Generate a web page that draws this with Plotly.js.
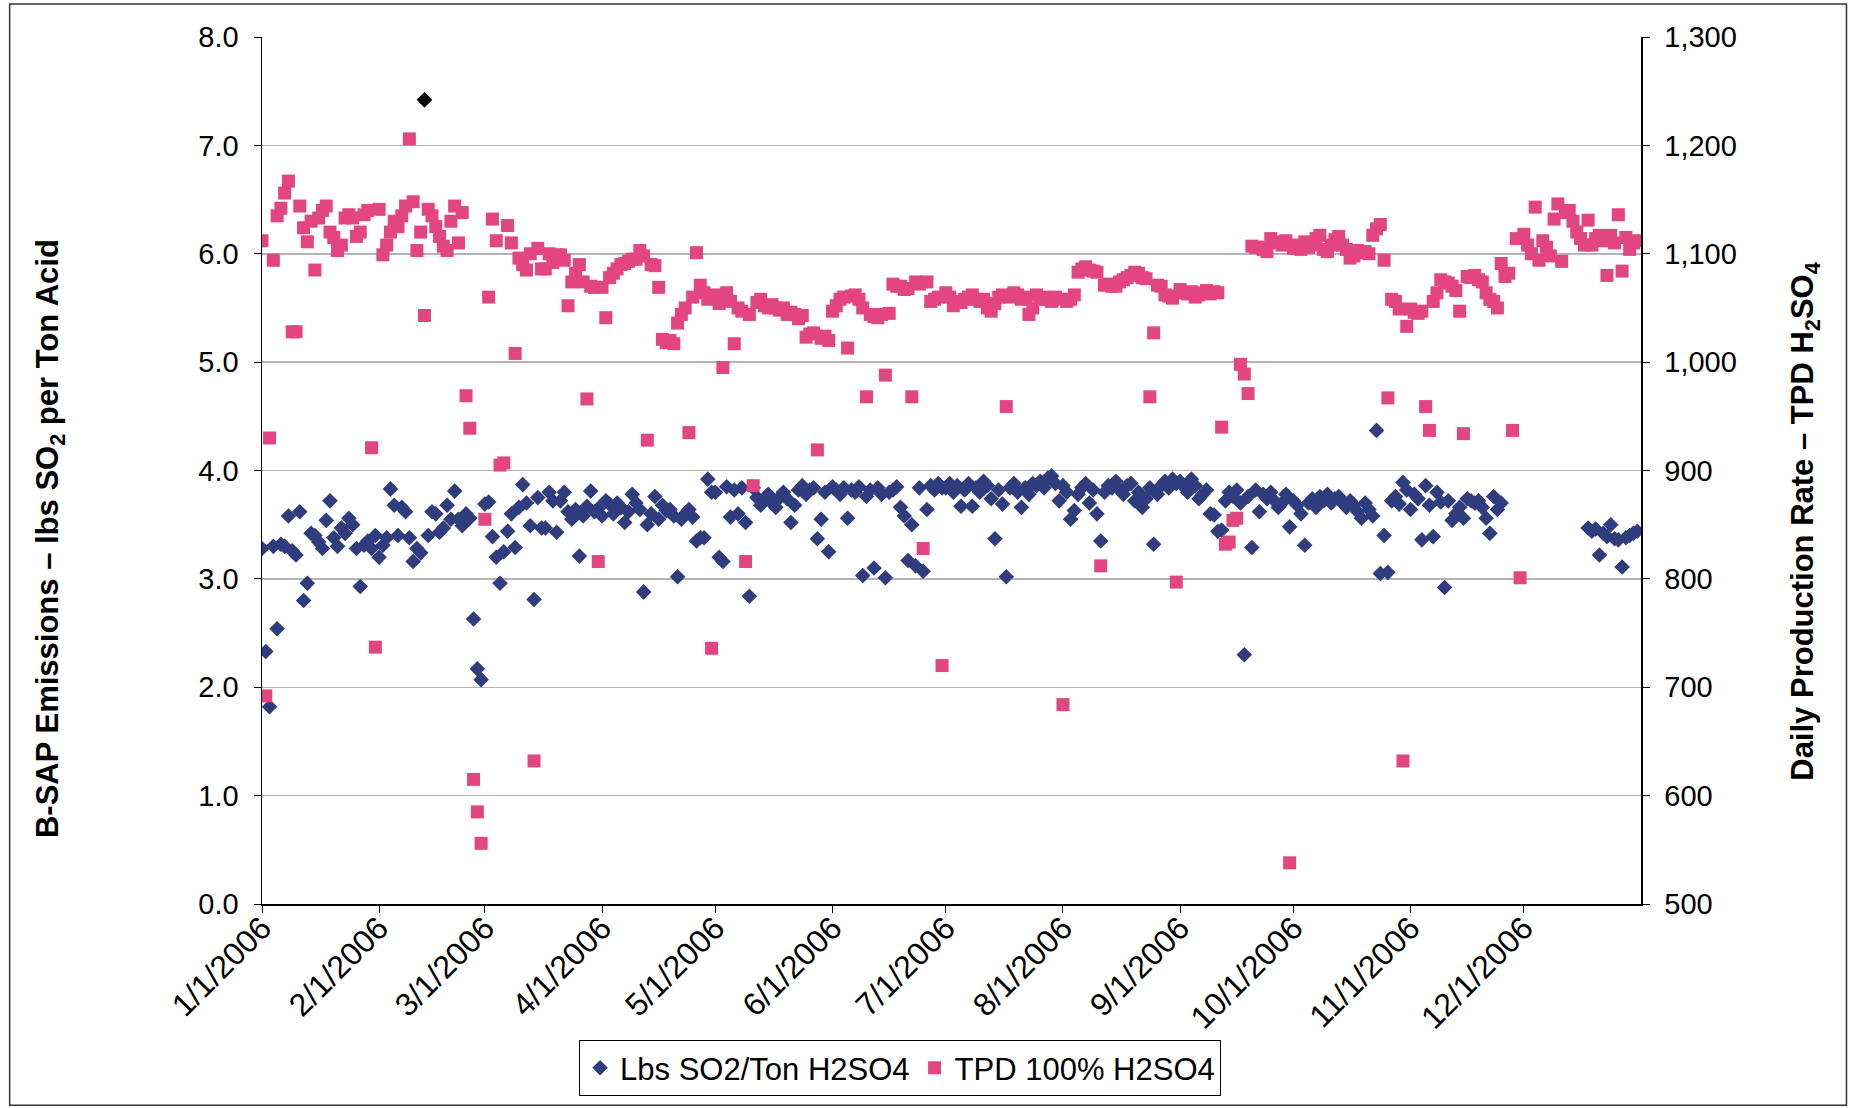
<!DOCTYPE html>
<html>
<head>
<meta charset="utf-8">
<script src="https://cdn.plot.ly/plotly-3.0.1.min.js"></script>
<style>
  html, body { margin: 0; padding: 0; background: #ffffff; }
  #chart { width: 1854px; height: 1108px; }
</style>
</head>
<body>
<div id="chart"></div>
<script>
// ---- Data (null = no reading that day) ----
const year = 2006;
const monthTickLabels = ["1/1/2006","2/1/2006","3/1/2006","4/1/2006","5/1/2006","6/1/2006",
                         "7/1/2006","8/1/2006","9/1/2006","10/1/2006","11/1/2006","12/1/2006"];
const seriesNames = ["Lbs SO2/Ton H2SO4", "TPD 100% H2SO4"];
const leftTitle = "<b>B-SAP Emissions – lbs SO<sub>2</sub> per Ton Acid</b>";
const rightTitle = "<b>Daily Production Rate – TPD H<sub>2</sub>SO<sub>4</sub></b>";
const highlightDates = ["2006-02-13"];

// Lbs SO2 per ton H2SO4 (left axis), one value per day
const so2Jan = [3.28,2.33,1.82,3.30,2.54,3.32,3.30,3.58,3.26,3.22,3.62,2.80,2.96,3.42,3.40,3.34,3.28,3.54,3.72,3.38,3.30,3.47,3.42,3.56,3.50,3.28,2.93,3.31,3.35,3.28,3.40];
const so2Feb = [3.20,3.31,3.38,3.83,3.68,3.40,3.66,3.62,3.38,3.16,3.28,3.24,7.42,3.40,3.62,3.60,3.43,3.47,3.68,3.55,3.81,3.55,3.49,3.60,3.56,2.63,2.17,2.07];
const so2Mar = [3.69,3.71,3.39,3.20,2.96,3.25,3.44,3.60,3.29,3.66,3.87,3.70,3.49,2.81,3.75,3.47,3.47,3.80,3.72,3.43,3.72,3.80,3.62,3.55,3.64,3.21,3.58,3.67,3.81,3.62,3.65];
const so2Apr = [3.58,3.72,3.69,3.60,3.70,3.66,3.52,3.62,3.78,3.70,3.64,2.88,3.50,3.60,3.76,3.55,3.68,3.63,3.64,3.58,3.02,3.55,3.60,3.64,3.57,3.35,3.38,3.38,3.92,3.80];
const so2May = [3.80,3.20,3.16,3.85,3.57,3.82,3.60,3.84,3.52,2.84,3.84,3.75,3.68,3.72,3.78,3.70,3.66,3.75,3.80,3.74,3.52,3.68,3.82,3.86,3.78,3.82,3.84,3.37,3.55,3.80,3.25];
const so2Jun = [3.85,3.82,3.78,3.84,3.56,3.82,3.80,3.85,3.03,3.76,3.82,3.10,3.84,3.78,3.01,3.80,3.82,3.85,3.66,3.58,3.17,3.50,3.12,3.84,3.07,3.64,3.86,3.82,3.88,3.84];
const so2Jul = [3.84,3.88,3.80,3.86,3.67,3.82,3.88,3.67,3.84,3.80,3.90,3.86,3.74,3.37,3.82,3.69,3.02,3.84,3.88,3.80,3.66,3.84,3.78,3.88,3.86,3.90,3.84,3.93,3.95,3.88,3.72];
const so2Aug = [3.86,3.80,3.55,3.63,3.78,3.84,3.88,3.70,3.82,3.60,3.35,3.80,3.86,3.84,3.90,3.82,3.78,3.86,3.88,3.72,3.80,3.66,3.74,3.84,3.32,3.78,3.86,3.90,3.84,3.92,3.88];
const so2Sep = [3.90,3.85,3.80,3.92,3.86,3.74,3.78,3.82,3.60,3.59,3.44,3.45,3.72,3.80,3.76,3.82,3.70,2.30,3.76,3.29,3.82,3.62,3.78,3.74,3.80,3.72,3.66,3.70,3.78,3.48];
const so2Oct = [3.72,3.68,3.60,3.31,3.70,3.74,3.66,3.76,3.72,3.78,3.70,3.74,3.76,3.70,3.66,3.72,3.68,3.62,3.56,3.70,3.64,3.58,4.37,3.05,3.40,3.06,3.72,3.76,3.69,3.89,3.82];
const so2Nov = [3.64,3.78,3.74,3.36,3.86,3.68,3.39,3.80,3.71,2.92,3.72,3.54,3.60,3.66,3.56,3.74,3.72,3.70,3.72,3.66,3.56,3.42,3.76,3.64,3.70,null,null,null,null,null];
const so2Dec = [null,null,null,null,null,null,null,null,null,null,null,null,null,null,null,null,null,3.47,3.44,3.46,3.22,3.42,3.39,3.50,3.37,3.36,3.11,3.38,3.40,3.42,3.44];

// Daily production, TPD 100% H2SO4 (right axis)
const tpdJan = [1112,692,930,1094,1135,1142,1156,1167,1028,1028,1144,1124,1111,1130,1085,1133,1140,1144,1120,1115,1103,1108,1133,1136,1133,1116,1120,1136,1140,921,737];
const tpdFeb = [1141,1099,1108,1120,1130,1125,1135,1144,1206,1148,1103,1120,1043,1141,1135,1125,1116,1107,1103,1130,1144,1110,1138,969,939,615,585,556];
const tpdMar = [855,1060,1132,1112,905,907,1126,1110,1008,1096,1090,1085,1100,632,1105,1086,1086,1100,1092,1099,1099,1094,1052,1074,1082,1090,1074,966,1070,1069,816];
const tpdApr = [1069,1041,1078,1082,1086,1090,1091,1093,1095,1095,1103,1098,928,1090,1089,1069,1021,1018,1020,1017,1036,1044,1050,935,1060,1101,1071,1064,1058,736];
const tpdMay = [1062,1054,995,1064,1056,1017,1050,1047,816,1044,886,1055,1058,1052,1050,1053,1050,1048,1050,1044,1046,1044,1040,1043,1023,1026,1027,919,1022,1024,1020];
const tpdJun = [1047,1052,1058,1060,1013,1061,1062,1058,1050,968,1044,1042,1041,1044,988,1045,1072,1070,1070,1067,1068,968,1074,1072,828,1074,1056,1058,1060,720];
const tpdJul = [1064,1060,1052,1056,1055,1058,1060,1062,1058,1056,1058,1050,1047,1054,1060,1062,959,1060,1064,1062,1058,1060,1044,1050,1062,1058,1060,1058,1056,1060,1058];
const tpdAug = [684,1056,1058,1062,1083,1086,1088,1085,1084,1083,812,1071,1072,1070,1070,1074,1076,1078,1080,1083,1082,1078,1077,968,1027,1071,1070,1062,1061,1059,797];
const tpdSep = [1067,1064,1063,1065,1060,1062,1064,1066,1063,1065,1064,940,832,834,854,856,998,989,971,1107,1106,1106,1104,1102,1114,1110,1111,1108,1112,538];
const tpdOct = [1105,1108,1104,1111,1106,1108,1114,1117,1104,1102,1108,1113,1116,1108,1104,1096,1098,1103,1101,1102,1100,1117,1123,1127,1094,967,1058,1056,1049,632,1033];
const tpdNov = [1049,1046,1045,1047,959,937,1056,1064,1076,1074,1073,1070,1066,1047,934,1079,1078,1080,1076,1074,1064,1058,1056,1050,1091,1079,1082,937,1114,801];
const tpdDec = [1118,1108,1100,1143,1094,1112,1106,1098,1132,1146,1093,1138,1140,1130,1120,1114,1108,1131,1108,1114,1117,1112,1080,1117,1110,1136,1084,1115,1104,1110,1112];

const so2Months = [so2Jan,so2Feb,so2Mar,so2Apr,so2May,so2Jun,so2Jul,so2Aug,so2Sep,so2Oct,so2Nov,so2Dec];
const tpdMonths = [tpdJan,tpdFeb,tpdMar,tpdApr,tpdMay,tpdJun,tpdJul,tpdAug,tpdSep,tpdOct,tpdNov,tpdDec];

// ---- Build date/value lists from the monthly arrays ----
function pad(n){ return (n < 10 ? "0" : "") + n; }
function flatten(months){
  const xs = [], ys = [];
  months.forEach((arr, m) => {
    arr.forEach((v, d) => {
      if (v !== null) { xs.push(year + "-" + pad(m + 1) + "-" + pad(d + 1)); ys.push(v); }
    });
  });
  return {xs, ys};
}
const so2 = flatten(so2Months);
const tpd = flatten(tpdMonths);

const BLUE = "#2f3d7e";
const PINK = "#e2457f";
const so2Colors = so2.xs.map(x => highlightDates.includes(x) ? "#000000" : BLUE);

const tickVals = monthTickLabels.map((t, i) => year + "-" + pad(i + 1) + "-01");

const FONT = "Liberation Sans, Arial, sans-serif";

const traces = [
  {
    x: so2.xs, y: so2.ys, name: seriesNames[0], type: "scatter", mode: "markers",
    xaxis: "x", yaxis: "y",
    marker: { symbol: "diamond", size: 12, color: so2Colors, line: { width: 0 } },
    hoverinfo: "x+y"
  },
  {
    x: tpd.xs, y: tpd.ys, name: seriesNames[1], type: "scatter", mode: "markers",
    xaxis: "x", yaxis: "y2",
    marker: { symbol: "square", size: 13, color: PINK, line: { width: 0 } },
    hoverinfo: "x+y"
  }
];

const layout = {
  width: 1854, height: 1108,
  margin: { l: 262, r: 213, t: 37, b: 202, pad: 0 },
  paper_bgcolor: "#ffffff", plot_bgcolor: "#ffffff",
  font: { family: FONT, size: 29, color: "#000000" },
  showlegend: true,
  legend: {
    orientation: "h", x: 0.4627, xanchor: "center", y: -0.157, yanchor: "top",
    bordercolor: "#000000", borderwidth: 1, bgcolor: "#ffffff",
    font: { family: FONT, size: 31, color: "#000000" },
    itemsizing: "trace", itemwidth: 30, tracegroupgap: 0
  },
  xaxis: {
    type: "date", range: ["2006-01-01", "2007-01-01"],
    tickmode: "array", tickvals: tickVals, ticktext: monthTickLabels,
    tickangle: -45, ticks: "outside", ticklen: 7, tickcolor: "#000000",
    ticklabelstandoff: -16,
    showline: true, linecolor: "#000000", linewidth: 1.5,
    showgrid: false, zeroline: false,
    tickfont: { family: FONT, size: 32, color: "#000000" }
  },
  yaxis: {
    range: [0, 8], dtick: 1, tick0: 0, tickformat: ".1f",
    ticks: "outside", ticklen: 7, tickcolor: "#000000", ticklabelstandoff: 9,
    showline: true, linecolor: "#000000", linewidth: 1.5,
    showgrid: true, gridcolor: "#b4b4b4", gridwidth: 1.5, zeroline: false,
    tickfont: { family: FONT, size: 29, color: "#000000" }
  },
  yaxis2: {
    range: [500, 1300], dtick: 100, tick0: 500, tickformat: ",",
    overlaying: "y", side: "right",
    ticks: "outside", ticklen: 7, tickcolor: "#000000", ticklabelstandoff: 9,
    showline: true, linecolor: "#000000", linewidth: 1.5,
    showgrid: false, zeroline: false,
    tickfont: { family: FONT, size: 29, color: "#000000" }
  },
  annotations: [
    { text: leftTitle, xref: "paper", yref: "paper", x: -0.1537, y: 0.421,
      xanchor: "center", yanchor: "middle", textangle: -90, showarrow: false,
      font: { family: FONT, size: 31, color: "#000000" } },
    { text: rightTitle, xref: "paper", yref: "paper", x: 1.119, y: 0.441,
      xanchor: "center", yanchor: "middle", textangle: -90, showarrow: false,
      font: { family: FONT, size: 31, color: "#000000" } }
  ],
  shapes: [
    { type: "rect", xref: "paper", yref: "paper",
      x0: -0.183, x1: 1.149, y0: -0.232, y1: 1.038,
      line: { color: "#333333", width: 1.5 }, fillcolor: "rgba(0,0,0,0)", layer: "below" }
  ]
};

Plotly.newPlot("chart", traces, layout, { displayModeBar: false, staticPlot: true });
</script>
</body>
</html>
